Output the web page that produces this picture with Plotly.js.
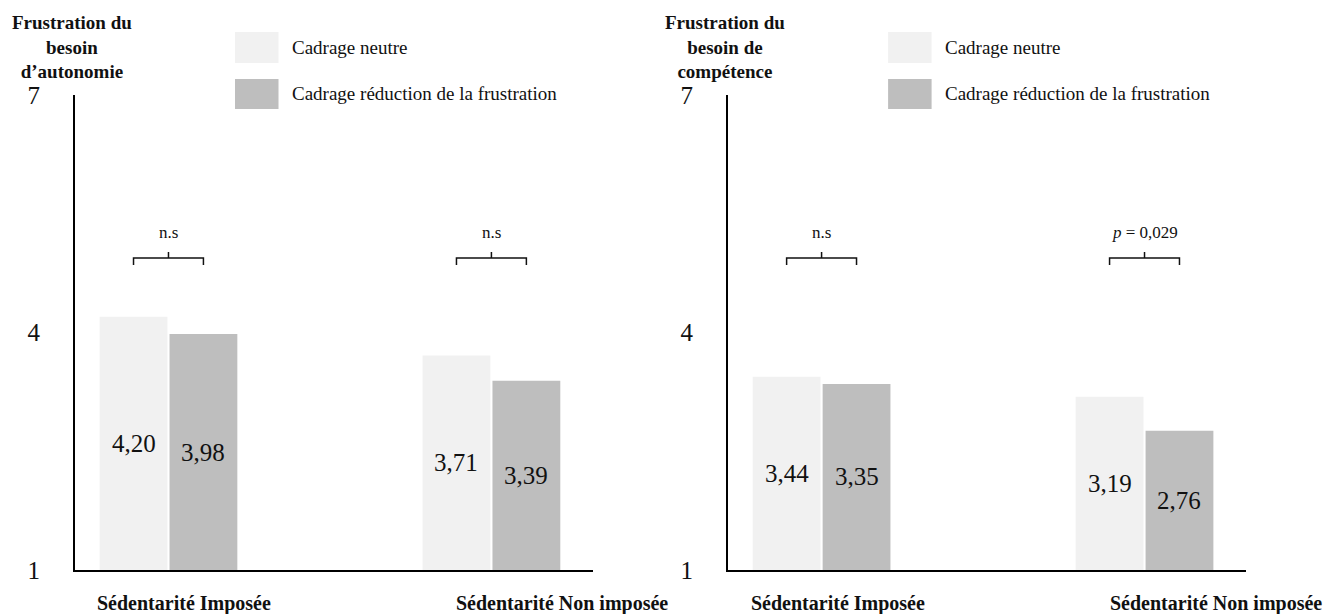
<!DOCTYPE html>
<html><head><meta charset="utf-8">
<script src="https://cdn.plot.ly/plotly-3.0.1.min.js"></script>
<style>html,body{margin:0;padding:0;background:#fff}#chart{width:1336px;height:614px}</style>
</head><body><div id="chart"></div>
<script>
// ---- data ----
const categories = ['Sédentarité Imposée', 'Sédentarité Non imposée'];
const seriesNames = ['Cadrage neutre', 'Cadrage réduction de la frustration'];
const panelTitles = ['Frustration du<br>besoin<br>d’autonomie', 'Frustration du<br>besoin de<br>compétence'];
const autonomieNeutre = [4.20, 3.71];
const autonomieReduction = [3.98, 3.39];
const competenceNeutre = [3.44, 3.19];
const competenceReduction = [3.35, 2.76];
const autonomieSignif = ['n.s', 'n.s'];
const competenceSignif = ['n.s', '<i>p</i> = 0,029'];
const yTickValues = [1, 4, 7];
const yTickLabels = ['1', '4', '7'];

// ---- layout helpers ----
const W = 1336, H = 614;
const fx = p => p / W, fy = p => (H - p) / H;
const FONT = '"Liberation Serif", "Times New Roman", serif';
const colors = ['#f1f1f1', '#bebebe'];
const fmt = v => v.toFixed(2).replace('.', ',');
const plotW = 518, baseY = 570, topY = 95;
const yRange = [1, 7];
const xRange = [-0.291, 1.313];
const bargap = 0.567;
const half = (1 - bargap) / 4; // distance from group centre to bar centre
const catLabelShift = [16, 71];

const panels = [
  {neutre: autonomieNeutre, reduction: autonomieReduction, signif: autonomieSignif, title: panelTitles[0], left: 74.5},
  {neutre: competenceNeutre, reduction: competenceReduction, signif: competenceSignif, title: panelTitles[1], left: 727.6}
];

const traces = [], shapes = [], annotations = [];
const layout = {
  width: W, height: H, margin: {l: 0, r: 0, t: 0, b: 0},
  paper_bgcolor: '#fff', plot_bgcolor: 'rgba(0,0,0,0)',
  showlegend: false, barmode: 'group', bargap: bargap, bargroupgap: 0.03,
  font: {family: FONT, color: '#111'}
};

panels.forEach((p, k) => {
  const xa = k === 0 ? 'x' : 'x2', ya = k === 0 ? 'y' : 'y2';
  const xName = k === 0 ? 'xaxis' : 'xaxis2', yName = k === 0 ? 'yaxis' : 'yaxis2';
  const xs = categories.map((c, i) => i);
  [p.neutre, p.reduction].forEach((vals, s) => {
    traces.push({
      type: 'bar', x: xs, y: vals, name: seriesNames[s], xaxis: xa, yaxis: ya,
      marker: {color: colors[s], line: {width: 0}},
      hoverinfo: 'skip'
    });
    // value labels, centred in the visible part of each bar
    vals.forEach((v, i) => {
      annotations.push({text: fmt(v), xref: xa, yref: ya,
        x: i + (s === 0 ? -half : half), y: (yRange[0] + v) / 2,
        xanchor: 'center', yanchor: 'middle', showarrow: false,
        font: {family: FONT, size: 25, color: '#111'}});
    });
  });
  layout[xName] = {
    domain: [fx(p.left), fx(p.left + plotW)], range: xRange, anchor: ya,
    showline: true, linecolor: '#000', linewidth: 1.5, showgrid: false, zeroline: false,
    showticklabels: false, ticks: '', fixedrange: true
  };
  layout[yName] = {
    domain: [fy(baseY), fy(topY)], range: yRange, anchor: xa,
    tickvals: yTickValues, ticktext: yTickLabels, tickfont: {family: FONT, size: 25, color: '#111'},
    showline: true, linecolor: '#000', linewidth: 1.5, showgrid: false, zeroline: false,
    ticks: '', ticklabelstandoff: 28, fixedrange: true
  };
  // panel (y-axis) title
  annotations.push({
    text: '<b>' + p.title + '</b>', xref: 'paper', yref: 'paper',
    x: fx(p.left - 2.5), y: fy(10), xanchor: 'center', yanchor: 'top',
    showarrow: false, align: 'center', font: {family: FONT, size: 19, color: '#111'}
  });
  // legend
  seriesNames.forEach((nm, s) => {
    const top = [32, 79][s], bot = [63, 109][s];
    shapes.push({type: 'rect', xref: 'paper', yref: 'paper',
      x0: fx(p.left + 160.5), x1: fx(p.left + 204), y0: fy(bot), y1: fy(top),
      fillcolor: colors[s], line: {width: 0}});
    annotations.push({text: nm, xref: 'paper', yref: 'paper',
      x: fx(p.left + 215.5), y: fy((top + bot) / 2), xanchor: 'left', yanchor: 'middle',
      showarrow: false, font: {family: FONT, size: 19, color: '#111'}});
  });
  // category labels
  categories.forEach((c, i) => {
    annotations.push({text: '<b>' + c + '</b>', xref: xa, yref: 'paper',
      x: i, y: fy(603), xanchor: 'center', yanchor: 'middle', xshift: catLabelShift[i],
      showarrow: false, font: {family: FONT, size: 20, color: '#111'}});
  });
  // significance brackets
  p.signif.forEach((sg, i) => {
    const a = i - half, b = i + half;
    shapes.push({type: 'path', xref: xa, yref: 'paper',
      path: `M${a},${fy(265)} L${a},${fy(258)} L${b},${fy(258)} L${b},${fy(265)} M${i},${fy(258)} L${i},${fy(252)}`,
      line: {color: '#111', width: 1.5}});
    annotations.push({text: sg, xref: xa, yref: 'paper', x: i, y: fy(233),
      xanchor: 'center', yanchor: 'middle', showarrow: false,
      font: {family: FONT, size: 17, color: '#111'}});
  });
});
layout.shapes = shapes;
layout.annotations = annotations;
Plotly.newPlot('chart', traces, layout, {staticPlot: true, displayModeBar: false});
</script></body></html>
